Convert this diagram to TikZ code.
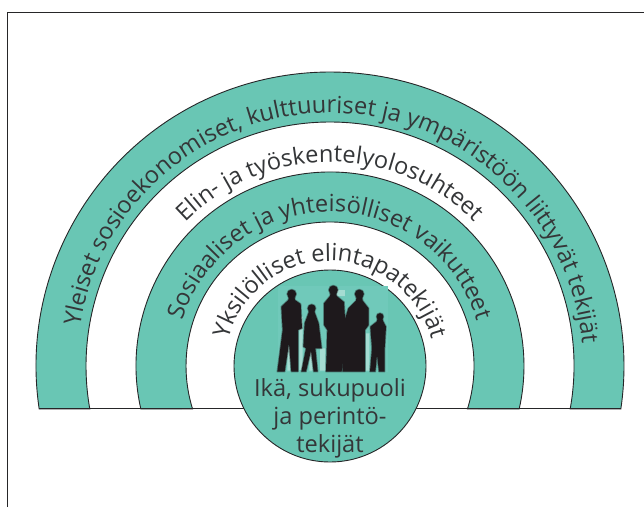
\documentclass[tikz,border=0pt]{standalone}
\usepackage{fontspec}
\setmainfont{Open Sans}
\usetikzlibrary{decorations.text}
\definecolor{bandGreen}{RGB}{105,198,180}
\definecolor{lineDark}{RGB}{38,38,40}
\definecolor{textDark}{RGB}{52,54,56}
\definecolor{figureDark}{RGB}{30,25,28}
\definecolor{photoBase}{RGB}{112,201,186}
\definecolor{photoLight}{RGB}{165,220,210}
\tikzset{
  frameline/.style={draw=lineDark,line width=1pt},
  bandline/.style={draw=lineDark,line width=.9pt,fill=bandGreen},
  bandtext/.style={decorate,decoration={text along path,text align=center,
      text={|\fontsize{23.6}{28}\selectfont\color{textDark}|#1}}},
  figure/.style={fill=figureDark,draw=figureDark,draw opacity=.4,line width=1.6pt,line join=round},
}
\begin{document}
\begin{tikzpicture}[x=1pt,y=1pt]
  \useasboundingbox (0,0) rectangle (644,507);
  % frame, open at the bottom and on the right
  \coordinate (frameStart) at (7.5,0);
  \coordinate (frameCorner) at (7.5,494.5);
  \coordinate (frameEnd) at (644,494.5);
  \draw[frameline] (frameStart) -- (frameCorner) -- (frameEnd);
  % bands
  \begin{scope}[shift={(330,141)}]
    \coordinate (centre) at (0,0);
    \foreach \outerR/\innerR in {294/244,194/144}{
      \pgfmathsetmacro{\outerA}{asin(43/\outerR)}
      \pgfmathsetmacro{\innerA}{asin(43/\innerR)}
      \draw[bandline] (180+\outerA:\outerR) arc (180+\outerA:-\outerA:\outerR)
        -- (-\innerA:\innerR) arc (-\innerA:180+\innerA:\innerR) -- cycle;
    }
    \coordinate (baseLeft) at (188.4:294);
    \coordinate (baseRight) at (-8.4:294);
    \draw[lineDark,line width=.9pt] (baseLeft) -- (baseRight);
    % texts on the arcs
    \path[bandtext={Yleiset sosioekonomiset, kulttuuriset ja ympäristöön liittyvät tekijät}]
      (178:253) arc (178:-2:253);
    \path[bandtext={Elin- ja työskentelyolosuhteet}] (180:204) arc (180:0:204);
    \path[bandtext={Sosiaaliset ja yhteisölliset vaikutteet}] (180:154) arc (180:0:154);
    \path[bandtext={Yksilölliset elintapatekijät}] (180:105) arc (180:0:105);
    \node[circle,bandline,minimum size=192pt,inner sep=0pt] (core) at (centre) {};
  \end{scope}
  % photo of the family
  \node[fill=photoBase,minimum width=110pt,minimum height=86pt,inner sep=0pt] (photo) at (332.5,178) {};
  \begin{scope}[shift={(270,227)},x=.3333pt,y=-.3333pt]
    \fill[photoLight] (88,110) rectangle (98,270) (150,205) rectangle (166,272) (288,160) rectangle (298,272)
      (52,200) rectangle (60,272) (118,215) rectangle (128,272) (200,30) rectangle (225,48);
    % left man
    \fill[figure] (65,42) circle [radius=4.5pt];
    \filldraw[figure] (58,45) -- (72,45) -- (75,60) -- (92,72) -- (96,145) -- (84,150) -- (84,275) -- (64,275)
      -- (57,190) -- (44,275) -- (22,275) -- (38,150) -- (34,80) -- (55,60) -- cycle;
    % girl
    \fill[figure] (125,85) circle [radius=4pt];
    \filldraw[figure] (119,88) -- (131,88) -- (135,100) -- (146,130) -- (155,205) -- (136,205) -- (143,275) -- (131,275)
      -- (123,212) -- (108,275) -- (94,275) -- (108,205) -- (100,200) -- (104,130) -- (115,100) -- cycle;
    % tall man
    \fill[figure] (190,30) circle [radius=4.5pt];
    \filldraw[figure] (183,33) -- (197,33) -- (200,48) -- (222,66) -- (226,130) -- (215,275) -- (168,275) -- (172,150)
      -- (162,135) -- (162,70) -- (180,48) -- cycle;
    % woman
    \fill[figure] (268,42) circle [radius=4.5pt];
    \filldraw[figure] (261,45) -- (275,45) -- (278,62) -- (296,85) -- (296,135) -- (285,150) -- (285,275) -- (218,275)
      -- (212,160) -- (235,85) -- (258,62) -- cycle;
    % boy
    \fill[figure] (330,110) circle [radius=3.5pt];
    \filldraw[figure] (325,112) -- (335,112) -- (340,125) -- (348,140) -- (344,205) -- (344,275) -- (327,275)
      -- (321,225) -- (316,275) -- (300,275) -- (306,205) -- (301,140) -- (320,125) -- cycle;
  \end{scope}
  \node[align=center,text=textDark,font=\fontsize{23.6}{28}\selectfont,inner sep=0pt] (corelabel) at (330,89)
    {Ikä, sukupuoli\\ja perintö-\\tekijät};
\end{tikzpicture}
\end{document}
